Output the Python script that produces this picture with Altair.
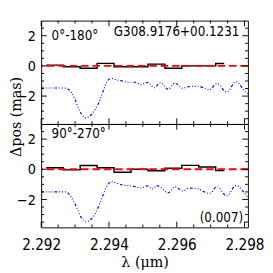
import altair as alt
import pandas as pd

NARROW = "Liberation Sans Narrow, Arial Narrow, DejaVu Sans Condensed, Liberation Sans, sans-serif"
SERIF = "DejaVu Serif, Liberation Serif, serif"

# Black histogram steps: bin left edges (micron) + final edge, values (mas)
bin_edges = [2.29215, 2.29265, 2.29315, 2.29365, 2.29415, 2.29465, 2.29515,
             2.29565, 2.29615, 2.29665, 2.29715, 2.29740]
step_top = [0.05, -0.06, -0.15, 0.17, -0.06, -0.05, 0.12, -0.16, 0.0, 0.0, 0.16]
step_bot = [0.10, -0.04, 0.25, 0.10, -0.20, 0.0, -0.10, 0.07, 0.26, 0.15, -0.09]

# Blue dash-dot curve (scaled spectrum)
blue_lam_top = [2.29200, 2.29272, 2.29290, 2.29300, 2.29309, 2.29318, 2.29332, 2.29346,
                2.29360, 2.29374, 2.29384, 2.29393, 2.29407, 2.29421, 2.29440, 2.29458,
                2.29477, 2.29496, 2.29505, 2.29514, 2.29533, 2.29552, 2.29575, 2.29594,
                2.29617, 2.29636, 2.29664, 2.29696, 2.29719, 2.29747, 2.29775, 2.29803,
                2.29810]
blue_top = [-1.46, -1.47, -1.80, -2.23, -2.75, -3.17, -3.44, -3.27,
            -2.86, -2.23, -1.60, -1.08, -0.83, -0.92, -1.00, -1.08,
            -1.08, -1.25, -1.14, -1.10, -1.45, -1.10, -1.56, -1.14,
            -1.48, -1.37, -1.35, -1.58, -1.16, -1.74, -1.05, -1.74,
            -1.84]
blue_lam_bot = [2.29200, 2.29272, 2.29290, 2.29300, 2.29309, 2.29318, 2.29335, 2.29346,
                2.29360, 2.29374, 2.29384, 2.29393, 2.29407, 2.29421, 2.29440, 2.29458,
                2.29477, 2.29496, 2.29505, 2.29514, 2.29528, 2.29542, 2.29575, 2.29594,
                2.29617, 2.29640, 2.29664, 2.29696, 2.29719, 2.29747, 2.29775, 2.29803,
                2.29810]
blue_bot = [-1.50, -1.50, -1.88, -2.30, -2.77, -3.19, -3.48, -3.33,
            -2.92, -2.19, -1.63, -1.15, -0.83, -0.90, -1.04, -1.08,
            -1.15, -1.25, -1.15, -1.10, -1.31, -1.08, -1.56, -1.15,
            -1.42, -1.25, -1.31, -1.60, -1.15, -1.77, -1.08, -1.67,
            -1.88]

y_major = [-2, 0, 2]
y_minor = [-3.5, -3, -2.5, -1.5, -1, -0.5, 0.5, 1, 1.5, 2.5]
x_major = [2.292, 2.294, 2.296, 2.298]
x_minor = [2.2925, 2.293, 2.2935, 2.2945, 2.295, 2.2955, 2.2965, 2.297, 2.2975]
zero_level = [0]

panel_labels = ["0°-180°", "90°-270°"]
source_name = "G308.9176+00.1231"
note = "(0.007)"

W, H = 218, 109
xs = alt.Scale(domain=[2.292, 2.2981], nice=False, zero=False)
ys = alt.Scale(domain=[-3.85, 3.0], nice=False, zero=False)


def y_axis(with_title):
    kw = dict(values=y_major, format="d", ticks=False, domain=False, grid=False,
              labelFont=NARROW, labelFontSize=15, labelPadding=6, labelColor="black",
              labelOverlap=False, labelBound=False)
    if with_title:
        kw.update(title="Δpos (mas)", titleFont=SERIF, titleFontSize=15,
                  titleFontWeight="normal", titleColor="black", titleX=-22, titleY=-8,
                  titleBaseline="alphabetic", titleAngle=270, titleAlign="center")
    else:
        kw.update(title=None)
    return alt.Axis(**kw)


def make_panel(steps, blam, bvals, label, label_y, bottom):
    if bottom:
        xax = alt.Axis(values=x_major, format=".3f", ticks=False, domain=False, grid=False,
                       labelFont=NARROW, labelFontSize=16, labelPadding=10, labelFlush=False,
                       labelColor="black", title="λ (μm)", titleFont=SERIF, titleFontSize=15,
                       titleFontWeight="normal", titlePadding=3, titleColor="black")
    else:
        xax = None
    yax = y_axis(bottom)

    X = lambda f: alt.X(f, scale=xs, axis=xax, title=None if not bottom else "λ (μm)")
    Y = lambda f: alt.Y(f, scale=ys, axis=yax)

    df_step = pd.DataFrame({"lam": bin_edges, "val": steps + [steps[-1]]})
    df_blue = pd.DataFrame({"lam": blam, "val": bvals})

    step = alt.Chart(df_step).mark_line(interpolate="step-after", color="black",
                                        strokeWidth=1.5).encode(x=X("lam:Q"), y=Y("val:Q"))
    blue = alt.Chart(df_blue).mark_line(interpolate="monotone", color="#0000ff", strokeWidth=1.2,
                                        strokeDash=[3, 2, 1, 2, 1, 2, 1, 2]).encode(
        x=X("lam:Q"), y=Y("val:Q"))
    red = alt.Chart(pd.DataFrame({"v": zero_level})).mark_rule(
        color="#ff0000", strokeWidth=2, strokeDash=[8, 4]).encode(y=Y("v:Q"))

    layers = [step, blue, red]
    for vals, ln in [(y_major, 6), (y_minor, 3)]:
        d = pd.DataFrame({"v": vals})
        layers.append(alt.Chart(d).mark_rule(color="black", strokeWidth=1).encode(
            y=Y("v:Q"), x=alt.value(0), x2=alt.value(ln)))
        layers.append(alt.Chart(d).mark_rule(color="black", strokeWidth=1).encode(
            y=Y("v:Q"), x=alt.value(W - ln), x2=alt.value(W)))
    for vals, ln in [(x_major, 6), (x_minor, 3)]:
        d = pd.DataFrame({"v": vals})
        layers.append(alt.Chart(d).mark_rule(color="black", strokeWidth=1).encode(
            x=X("v:Q"), y=alt.value(H - ln), y2=alt.value(H)))
        layers.append(alt.Chart(d).mark_rule(color="black", strokeWidth=1).encode(
            x=X("v:Q"), y=alt.value(0), y2=alt.value(ln)))

    layers.append(alt.Chart(pd.DataFrame({"t": [label]})).mark_text(
        align="left", baseline="alphabetic", font=NARROW, fontSize=14, color="black").encode(
        text="t:N", x=alt.value(11), y=alt.value(label_y)))
    if not bottom:
        layers.append(alt.Chart(pd.DataFrame({"t": [source_name]})).mark_text(
            align="right", baseline="alphabetic", font=NARROW, fontSize=14, color="black").encode(
            text="t:N", x=alt.value(209), y=alt.value(16.5)))
    else:
        layers.append(alt.Chart(pd.DataFrame({"t": [note]})).mark_text(
            align="right", baseline="alphabetic", font=NARROW, fontSize=14, color="black").encode(
            text="t:N", x=alt.value(213), y=alt.value(103)))

    return alt.layer(*layers).properties(width=W, height=H)


top = make_panel(step_top, blue_lam_top, blue_top, panel_labels[0], 20.5, False)
bot = make_panel(step_bot, blue_lam_bot, blue_bot, panel_labels[1], 14.3, True)

chart = alt.vconcat(top, bot, spacing=0, bounds="flush").properties(
    padding={"left": 0, "top": 5, "right": 0, "bottom": 0}
).configure_view(stroke="black", strokeWidth=1)

chart.save("out.html", embed_options={"renderer": "svg", "actions": False})
